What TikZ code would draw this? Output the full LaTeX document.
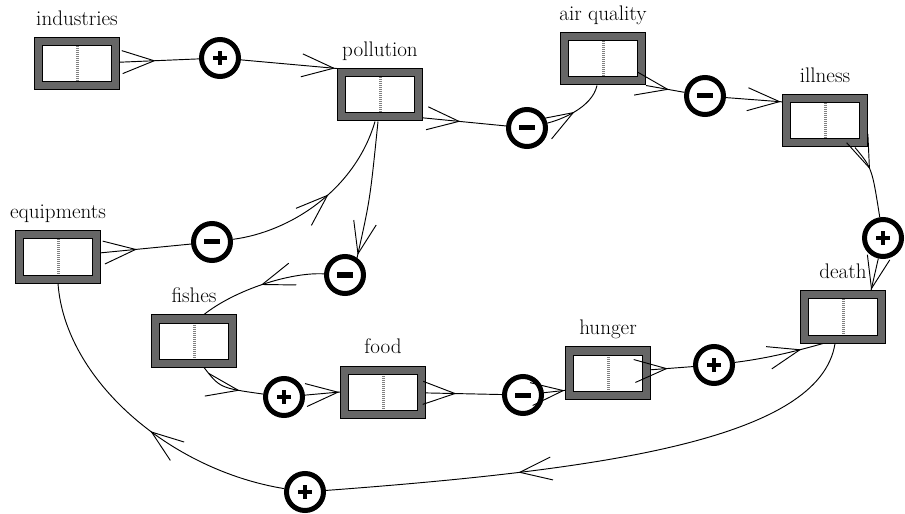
\documentclass[tikz,border=0pt]{standalone}
\usetikzlibrary{arrows.meta, decorations.markings, calc}

\begin{document}
\begin{tikzpicture}[
    x=0.03cm, y=-0.03cm,
    stock/.style={rectangle, draw=black, double=black!60, double distance=0.21cm, line width=0.03cm,
        fill=white, minimum width=2.31cm, minimum height=1.32cm, inner sep=0pt, outer sep=0.135cm,
        path picture={\draw[black!50, line width=0.09cm, dash pattern=on 1.2pt off 0.5pt]
            (path picture bounding box.north) -- (path picture bounding box.south);}},
    lbl/.style={font=\fontsize{18}{20}\selectfont, inner sep=0pt, text depth=0pt, yshift=0.36cm},
    sign/.style={circle, draw=black, line width=0.15cm, fill=white, minimum size=1.11cm, inner sep=0pt},
    possign/.style={sign, path picture={\draw[line width=0.12cm]
            ($(path picture bounding box.center)+(-0.2cm,0)$) -- ++(0.4cm,0)
            ($(path picture bounding box.center)+(0,-0.2cm)$) -- ++(0,0.4cm);}},
    negsign/.style={sign, path picture={\draw[line width=0.15cm]
            ($(path picture bounding box.center)+(-0.24cm,0)$) -- ++(0.48cm,0);}},
    link/.style={line width=0.8pt, decoration={markings, mark=at position #1 with
            {\arrow{Straight Barb[length=0.96cm, width=0.69cm, line width=0.8pt]}}},
        postaction={decorate}}
]
\useasboundingbox (0,0) rectangle (905,514);

% Stocks
\node[stock, label={[lbl]above:industries}] (industries) at (77,64) {};
\node[stock, label={[lbl]above:pollution}] (pollution) at (380,95) {};
\node[stock, label={[lbl]above:air quality}] (airq) at (603,59) {};
\node[stock, label={[lbl]above:illness}] (illness) at (825,121) {};
\node[stock, label={[lbl]above:equipments}] (equipments) at (58,257) {};
\node[stock, label={[lbl]above:fishes}] (fishes) at (194,341) {};
\node[stock, label={[lbl]above:food}] (food) at (383,392) {};
\node[stock, label={[lbl]above:hunger}] (hunger) at (608,373) {};
\node[stock, label={[lbl]above:death}] (death) at (843,317) {};

% Influence signs
\node[possign] (ind_pol) at (220,58) {};
\node[negsign] (pol_air) at (527,128) {};
\node[negsign] (air_ill) at (705,96) {};
\node[possign] (ill_dea) at (883,238) {};
\node[negsign] (equ_pol) at (212,242) {};
\node[negsign] (pol_fis) at (345,275) {};
\node[possign] (fis_foo) at (284,397) {};
\node[negsign] (foo_hun) at (523,395) {};
\node[possign] (hun_dea) at (714,365) {};
\node[possign] (dea_equ) at (305,492) {};

% Links
\draw[link=0.45] (industries) -- (ind_pol);
\draw[link=0.98] (ind_pol) -- (pollution.north west);
\draw[link=0.45] (pollution.-28) -- (pol_air);
\draw[link=0.45] (pol_air) .. controls (560,120) and (592,108) .. ($(airq.south)+(-6,0)$);
\draw[link=0.6] (airq.south east) -- (air_ill);
\draw[link=0.98] (air_ill) -- (illness.156);
\draw[link=0.35] ($(illness.south)+(30,0)$) .. controls (872,168) .. (ill_dea);
\draw[link=0.98] (ill_dea) -- ($(death.north)+(28,0)$);
\draw[link=0.4] (equipments) -- (equ_pol);
\draw[link=0.55] (equ_pol) .. controls (290,232) and (355,190) .. ($(pollution.south)+(-5,0)$);
\draw[link=0.98] ($(pollution.south)+(-2,0)$) .. controls (370,200) .. (pol_fis.55);
\draw[link=0.5] (pol_fis) .. controls (290,272) and (235,290) .. ($(fishes.north)+(10,0)$);
\draw[link=0.65] ($(fishes.south)+(10,0)$) .. controls (220,388) .. (fis_foo);
\draw[link=0.98] (fis_foo) -- (food.west);
\draw[link=0.4] (food) -- (foo_hun);
\draw[link=0.98] (foo_hun) -- (hunger.202);
\draw[link=0.4] (hunger) -- (hun_dea);
\draw[link=0.75] (hun_dea) .. controls (770,358) and (800,350) .. ($(death.south)+(-20,0)$);
\draw[link=0.65] ($(death.south)+(-8,0)$) .. controls (820,440) and (600,470) .. (dea_equ);
\draw[link=0.45] (dea_equ) .. controls (170,470) and (65,380) .. (equipments.south);

\end{tikzpicture}
\end{document}
